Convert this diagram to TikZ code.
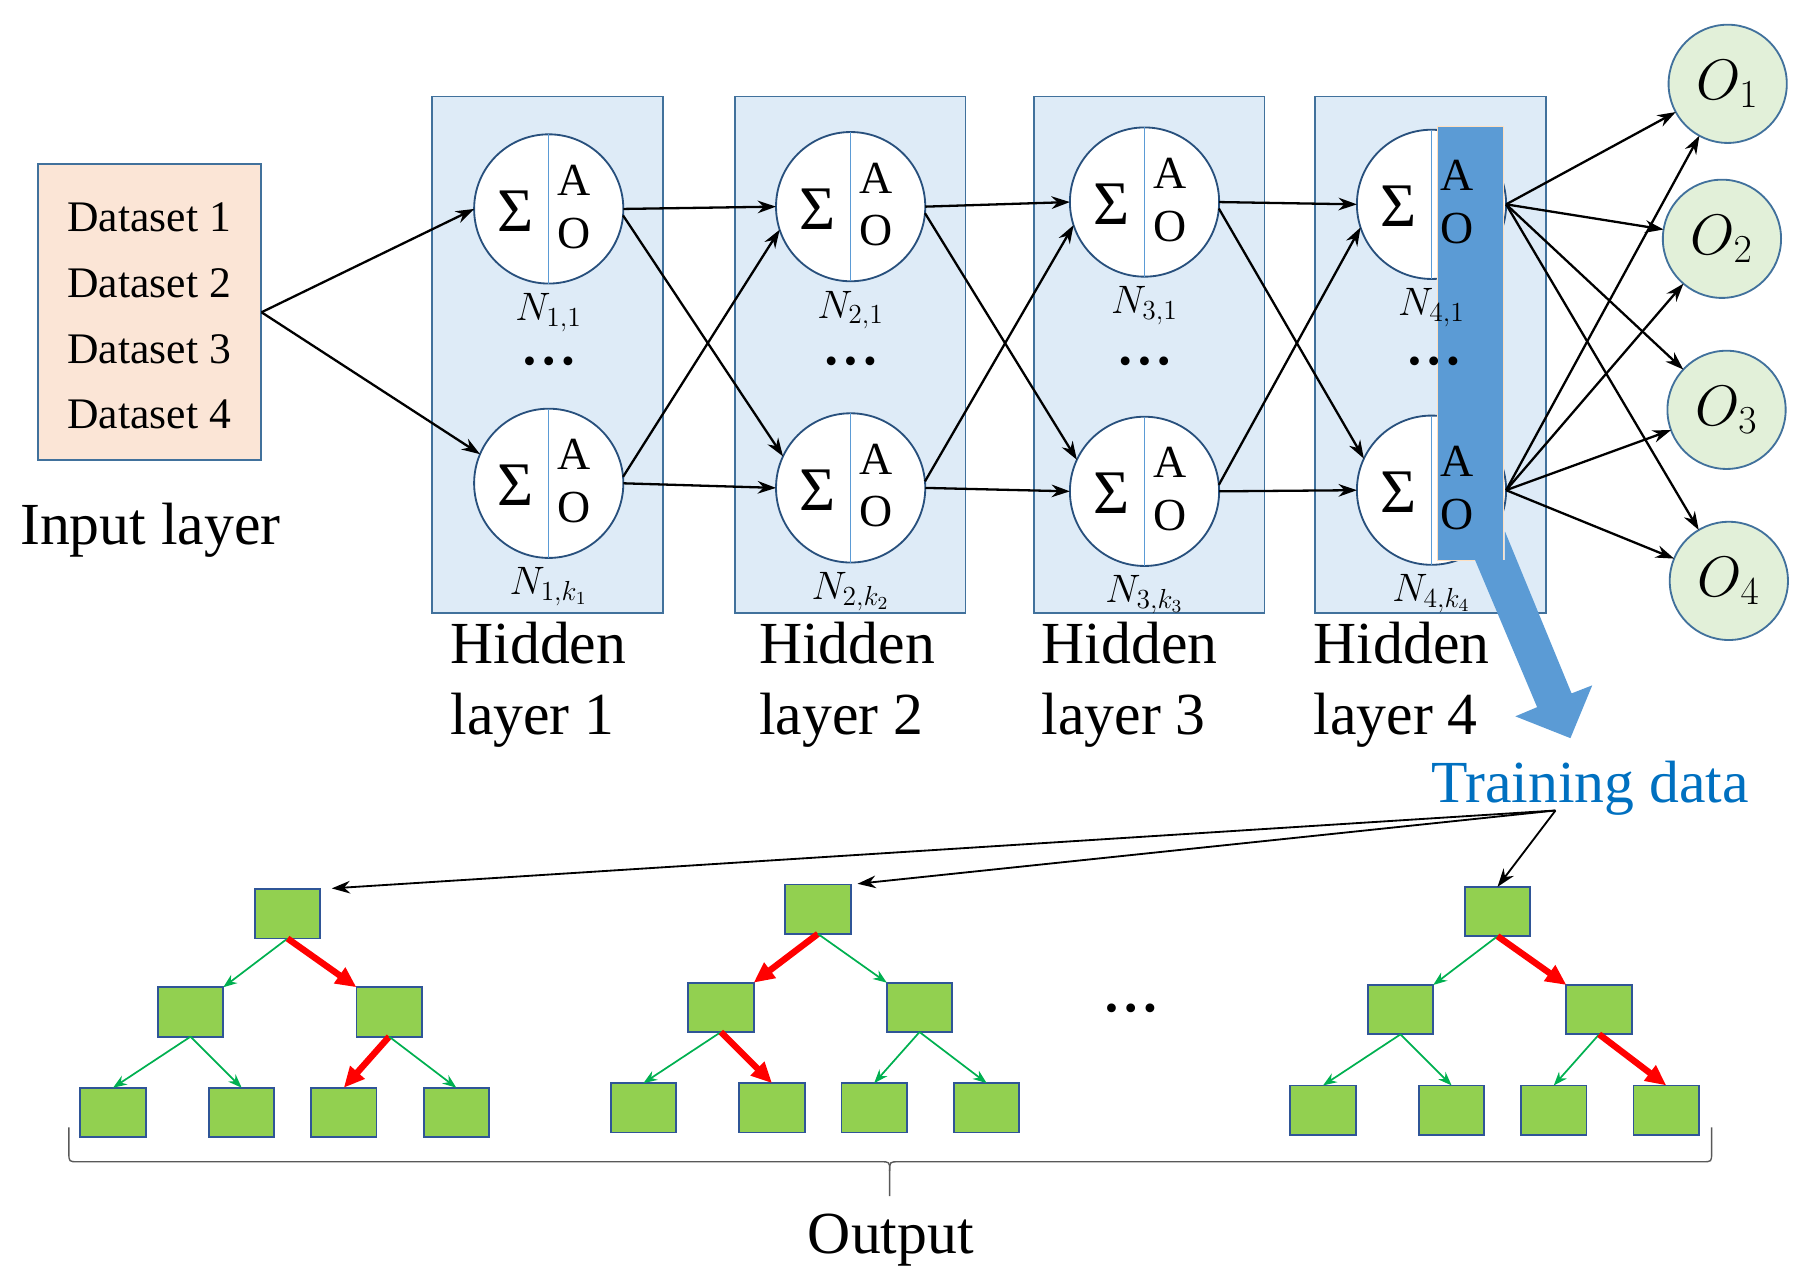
\documentclass[tikz,border=0pt]{standalone}
\usepackage{fontspec}
\setmainfont{Liberation Serif}
\usetikzlibrary{arrows.meta,positioning,calc}
\definecolor{layerblue}{RGB}{222,235,247}
\definecolor{edgeblue}{RGB}{65,113,156}
\definecolor{darkblue}{RGB}{40,80,125}
\definecolor{barblue}{RGB}{91,155,213}
\definecolor{inputpeach}{RGB}{251,229,214}
\definecolor{outgreen}{RGB}{226,240,217}
\definecolor{leafgreen}{RGB}{146,208,80}
\definecolor{treeblue}{RGB}{47,85,151}
\definecolor{arrowgreen}{RGB}{0,176,80}
\definecolor{textblue}{RGB}{0,112,192}
\newcommand{\dotrow}{\fontsize{16}{16}\selectfont\textbullet\kern2.8pt\textbullet\kern2.8pt\textbullet}

\begin{document}
\begin{tikzpicture}[x=0.5pt,y=-0.5pt,
    neuron/.style={circle,draw=darkblue,line width=0.8pt,fill=white,minimum size=65pt,inner sep=0pt,outer sep=0pt},
    layerbox/.style={draw=edgeblue,line width=0.8pt,fill=layerblue,minimum width=100.5pt,minimum height=225pt,inner sep=0pt},
    outneuron/.style={circle,draw=edgeblue,line width=0.8pt,fill=outgreen,minimum size=51.5pt,inner sep=0pt,outer sep=0pt,font=\fontsize{27}{27}\selectfont},
    treebox/.style={draw=treeblue,line width=0.8pt,fill=leafgreen,minimum width=28.5pt,minimum height=21.5pt,inner sep=0pt,outer sep=0pt},
    link/.style={-{Stealth[length=8pt,width=5.5pt]},line width=1pt},
    cold/.style={-{Stealth[length=6pt,width=4.5pt]},line width=0.75pt,arrowgreen},
    hot/.style={-{Triangle[length=9pt,width=8pt]},line width=2.8pt,red},
    nlabel/.style={font=\fontsize{17}{17}\selectfont,inner sep=1pt},
    bigtext/.style={font=\fontsize{26}{31}\selectfont,inner sep=0pt}]

    \useasboundingbox (0,0) rectangle (1568,1116);

    % Input layer
    \node[draw=edgeblue,line width=0.8pt,fill=inputpeach,minimum width=97pt,minimum height=129pt] (inp) at (130,272) {};
    \foreach \d/\y in {1/202,2/259.5,3/317,4/373}
        \node[anchor=base,inner sep=0pt,font=\fontsize{19}{19}\selectfont] (ds\d) at (130,\y) {Dataset \d};
    \node[bigtext,anchor=base] (inlabel) at (131,474) {Input layer};

    % Hidden layers
    \foreach \i/\bx/\x/\yt/\yb in {1/477/478/182/421,2/740.5/741/180/425,3/1001/997/176/428,4/1246/1247/178/427}{
        \node[layerbox] (hl\i) at (\bx,309) {};
        \node[neuron] (top\i) at (\x,\yt) {};
        \node[neuron] (bot\i) at (\x,\yb) {};
        \draw[barblue,line width=0.6pt] (top\i.north) -- (top\i.south);
        \draw[barblue,line width=0.6pt] (bot\i.north) -- (bot\i.south);
    }

    % Training data taken from hidden layer 4
    \filldraw[fill=barblue,draw=orange!25,line width=0.4pt] (1252,110) rectangle (1310,488);
    \fill[barblue] (1285,488) -- (1339,616) -- (1320,624) -- (1368,643) -- (1387,597) -- (1369,604) -- (1311,463) -- (1311,488) -- cycle;

    \foreach \i/\x in {1/478,2/741,3/997,4/1249}{
        \foreach \n in {top\i,bot\i}{
            \node[font=\fontsize{27}{27}\selectfont] (s\n) at ($(\n)+(-29,2)$) {Σ};
            \node[font=\fontsize{20}{20}\selectfont] (a\n) at ($(\n)+(22,-25)$) {A};
            \node[font=\fontsize{20}{20}\selectfont] (o\n) at ($(\n)+(22,21)$) {O};
        }
        \node[nlabel,below=3pt of top\i] (ntop\i) {$N_{\i,1}$};
        \node[nlabel,below=3pt of bot\i] (nbot\i) {$N_{\i,k_\i}$};
        \node (dots\i) at (\x,318) {\dotrow};
    }
    \foreach \i/\hx in {1/392,2/661,3/907,4/1144}{
        \node[bigtext,anchor=base west] (hid\i) at (\hx,578) {Hidden};
        \node[bigtext,anchor=base west] (lay\i) at (\hx,640) {layer \i};
    }

    % Output layer
    \foreach \j/\ox/\oy in {1/1505/73,2/1500/208,3/1504/357,4/1506/506}
        \node[outneuron] (out\j) at (\ox,\oy) {$O_\j$};

    % Connections
    \draw[link] (inp.east) -- (top1.west);
    \draw[link] (inp.east) -- (bot1.157);
    \foreach \i/\j in {1/2,2/3,3/4}{
        \draw[link] (top\i.east) -- (top\j.west);
        \draw[link] (top\i.355) -- (bot\j.155);
        \draw[link] (bot\i.5) -- (top\j.198);
        \draw[link] (bot\i.east) -- (bot\j.west);
    }
    \foreach \j in {1,...,4}{
        \draw[link] (top4.east) -- (out\j);
        \draw[link] (bot4.east) -- (out\j);
    }

    \node[font=\fontsize{26}{26}\selectfont,text=textblue,anchor=base,inner sep=0pt] (td) at (1385,699) {Training data};
    \coordinate (tdsrc) at (1355,706);

    % Decision trees
    \foreach \t/\rx/\ry/\edgeL/\edgeR/\edgeA/\edgeB/\edgeC/\edgeD in
        {1/250.5/796/cold/hot/cold/cold/hot/cold,
         2/712.5/792/hot/cold/cold/hot/cold/cold,
         3/1304.5/794/cold/hot/cold/cold/cold/hot}{
        \node[treebox] (root\t) at (\rx,\ry) {};
        \node[treebox] (left\t) at (\rx-84.5,\ry+85.5) {};
        \node[treebox] (right\t) at (\rx+88.5,\ry+85.5) {};
        \node[treebox] (leafa\t) at (\rx-152,\ry+173) {};
        \node[treebox] (leafb\t) at (\rx-40,\ry+173) {};
        \node[treebox] (leafc\t) at (\rx+49,\ry+173) {};
        \node[treebox] (leafd\t) at (\rx+147,\ry+173) {};
        \draw[\edgeL] (root\t.south) -- (left\t.north east);
        \draw[\edgeR] (root\t.south) -- (right\t.north west);
        \draw[\edgeA] (left\t.south) -- (leafa\t.north);
        \draw[\edgeB] (left\t.south) -- (leafb\t.north);
        \draw[\edgeC] (right\t.south) -- (leafc\t.north);
        \draw[\edgeD] (right\t.south) -- (leafd\t.north);
    }
    \node (treedots) at (985,882) {\dotrow};

    \draw[link,line width=0.8pt,shorten >=5pt] (tdsrc) -- (root1.north east);
    \draw[link,line width=0.8pt,shorten >=3pt] (tdsrc) -- (root2.north east);
    \draw[link,line width=0.8pt] (tdsrc) -- (root3.north);

    % Output brace
    \draw[black!65,line width=0.6pt] (60,982) -- (60,1004) .. controls (60,1012) .. (68,1012) -- (767,1012) .. controls (775,1012) .. (775,1020) -- (775,1042);
    \draw[black!65,line width=0.6pt] (1491,982) -- (1491,1004) .. controls (1491,1012) .. (1483,1012) -- (783,1012) .. controls (775,1012) .. (775,1020);
    \node[bigtext,anchor=base] (outlabel) at (776,1092) {Output};
\end{tikzpicture}
\end{document}
